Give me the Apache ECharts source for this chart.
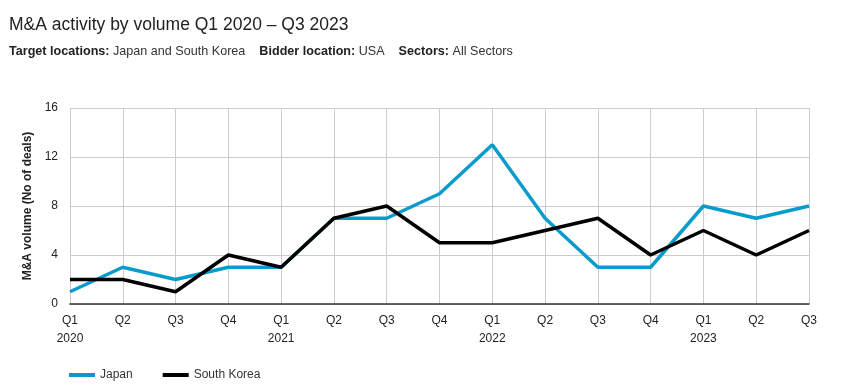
<!DOCTYPE html>
<html><head><meta charset="utf-8">
<script src="https://cdn.jsdelivr.net/npm/echarts@6/dist/echarts.min.js"></script>
<style>html,body{margin:0;padding:0;background:#fff}#c{width:843px;height:389px}</style>
</head><body><div id="c"></div>
<script>
const categories = ["Q1\n2020","Q2","Q3","Q4","Q1\n2021","Q2","Q3","Q4","Q1\n2022","Q2","Q3","Q4","Q1\n2023","Q2","Q3"];
const japan = [1,3,2,3,3,7,7,9,13,7,3,3,8,7,8];
const southKorea = [2,2,1,4,3,7,8,5,5,6,7,4,6,4,6];
const yTicks = [0,4,8,12,16];

const chart = echarts.init(document.getElementById('c'));
const F = '"Liberation Sans", Arial, sans-serif';
chart.setOption({
  animation: false,
  textStyle: {fontFamily: F},
  title: [
    {text: 'M&A activity by volume Q1 2020 – Q3 2023', left: 4, top: 11,
     textStyle: {fontSize: 17.5, fontWeight: 'normal', color: '#222', fontFamily: F}},
    {text: '{b|Target locations:} {n|Japan and South Korea}    {b|Bidder location:} {n|USA}    {b|Sectors:} {n|All Sectors}',
     left: 4, top: 40,
     textStyle: {fontWeight: 'normal', fontSize: 12.6,
                 rich: {b: {fontWeight: 'bold', fontSize: 12.6, color: '#222', fontFamily: F},
                        n: {fontWeight: 'normal', fontSize: 12.6, color: '#333', fontFamily: F}}}}
  ],
  legend: {
    left: 64, top: 364, itemWidth: 26, itemHeight: 4, itemGap: 30,
    icon: 'rect',
    textStyle: {fontSize: 12, color: '#333', fontFamily: F},
    data: ['Japan', 'South Korea']
  },
  grid: {left: 70, right: 34, top: 108, bottom: 85},
  xAxis: {
    type: 'category', data: categories, boundaryGap: false,
    axisLine: {lineStyle: {color: '#333', width: 1.5}},
    axisTick: {show: false},
    splitLine: {show: true, lineStyle: {color: '#ccc', width: 1}},
    axisLabel: {color: '#222', fontSize: 12, lineHeight: 18, margin: 8, fontFamily: F}
  },
  yAxis: {
    type: 'value', min: yTicks[0], max: yTicks[yTicks.length-1], interval: 4,
    name: 'M&A volume (No of deals)', nameLocation: 'middle', nameGap: 34,
    nameTextStyle: {fontWeight: 'bold', fontSize: 12, color: '#222', fontFamily: F},
    axisLine: {show: false}, axisTick: {show: false},
    splitLine: {lineStyle: {color: '#ccc', width: 1}},
    axisLabel: {color: '#222', fontSize: 12, margin: 12, fontFamily: F}
  },
  series: [
    {name: 'Japan', type: 'line', data: japan, symbol: 'none',
     lineStyle: {color: '#0a9bcd', width: 3.5}, itemStyle: {color: '#0a9bcd'}},
    {name: 'South Korea', type: 'line', data: southKorea, symbol: 'none',
     lineStyle: {color: '#000', width: 3.5}, itemStyle: {color: '#000'}}
  ]
});
</script></body></html>
